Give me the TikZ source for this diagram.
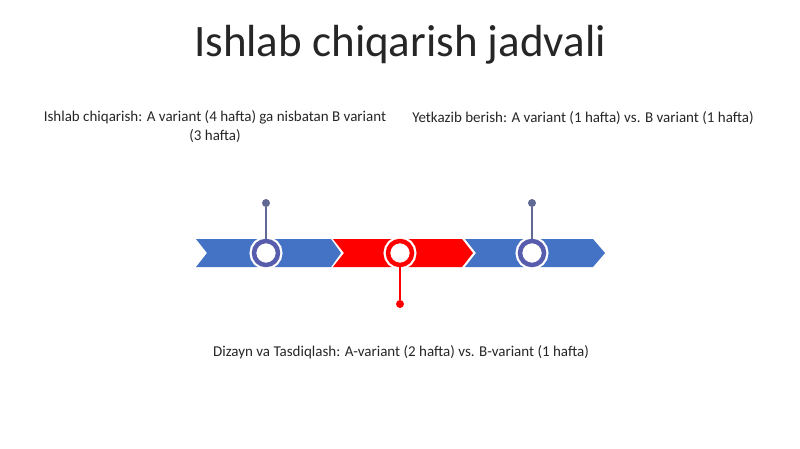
\documentclass[tikz,border=0pt]{standalone}
\usepackage{fontspec}
\setmainfont{Carlito}
\usepackage{tikz}
\usetikzlibrary{positioning}

\definecolor{bandblue}{RGB}{68,114,196}
\definecolor{bandred}{RGB}{255,0,0}
\definecolor{ringblue}{RGB}{88,92,172}
\definecolor{pingray}{RGB}{96,104,148}

\begin{document}
\begin{tikzpicture}[x=1pt, y=-1pt,
    milestone/.style={circle, draw=#1, fill=white, line width=4.5pt, inner sep=0pt, minimum size=24pt,
        preaction={draw=white, line width=9pt}},
    pindot/.style={circle, fill=#1, inner sep=0pt, minimum size=8pt},
    pinline/.style={draw=#1, line width=1.5pt},
    caption/.style={font=\fontsize{15}{19}\selectfont, text=black!85, align=center, inner sep=0pt}
]
\useasboundingbox (0,0) rectangle (800,449);

% Title
\node[font=\fontsize{45}{50}\selectfont, text=black!85] (title) at (400,45) {Ishlab chiqarish jadvali};

% Chevron band
\fill[bandblue] (196,239) -- (331,239) -- (341,253) -- (331,267) -- (196,267) -- (207,253) -- cycle;
\fill[bandred]  (333,239) -- (462,239) -- (473,253) -- (462,267) -- (333,267) -- (344,253) -- cycle;
\fill[bandblue] (465,239) -- (593,239) -- (605,253) -- (593,267) -- (465,267) -- (476,253) -- cycle;

% Milestones on the band
\node[milestone=ringblue] (ms1) at (266,253) {};
\node[milestone=bandred]  (ms2) at (400,253) {};
\node[milestone=ringblue] (ms3) at (532,253) {};

% Pins
\node[pindot=pingray] (dot1) at (266,203) {};
\node[pindot=bandred] (dot2) at (400,304) {};
\node[pindot=pingray] (dot3) at (532,203) {};
\draw[pinline=pingray] (dot1) -- (ms1.north);
\draw[pinline=bandred] (ms2.south) -- (dot2);
\draw[pinline=pingray] (dot3) -- (ms3.north);

% Captions
\node[caption] (cap1) at (215,127) {Ishlab chiqarish: A variant (4 hafta) ga nisbatan B variant\\(3 hafta)};
\node[caption] (cap3) at (583,118) {Yetkazib berish: A variant (1 hafta) vs. B variant (1 hafta)};
\node[caption] (cap2) at (401,352) {Dizayn va Tasdiqlash: A-variant (2 hafta) vs. B-variant (1 hafta)};
\end{tikzpicture}
\end{document}
